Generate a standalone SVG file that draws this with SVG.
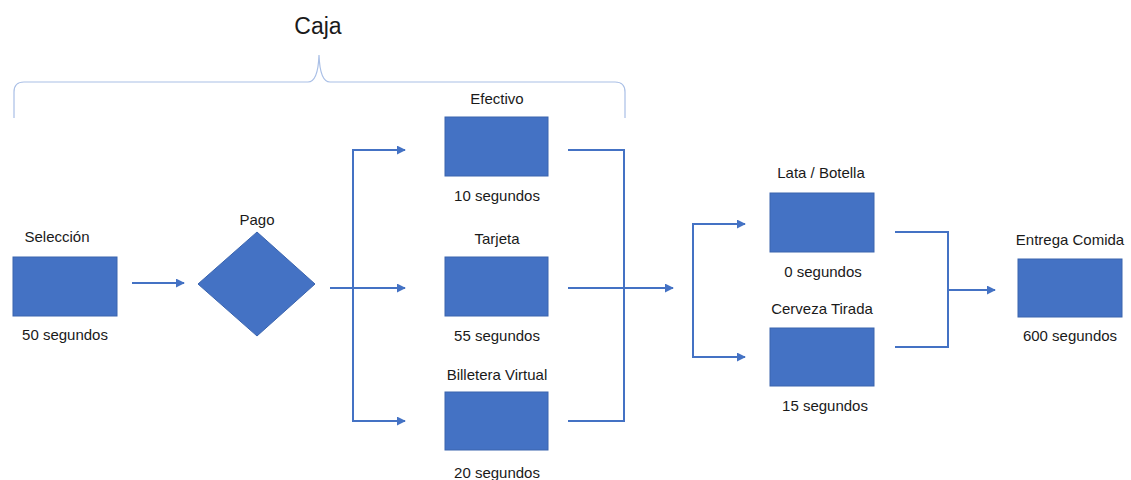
<svg xmlns="http://www.w3.org/2000/svg" width="1131" height="480" viewBox="0 0 1131 480">
<style>
.box{fill:#4472C4;stroke:#3A64AE;stroke-width:1}
.lbl{font-family:"Liberation Sans",Arial,sans-serif;font-size:15px;fill:#1a1a1a;text-anchor:middle}
.cn{fill:none;stroke:#4472C4;stroke-width:2}
.brace{fill:none;stroke:#A9BFE6;stroke-width:1.2}
</style>
<defs>
<marker id="ah" viewBox="0 0 10 10" refX="9" refY="5" markerWidth="4.5" markerHeight="4.5" orient="auto" markerUnits="strokeWidth">
<path d="M0,0 L10,5 L0,10 z" fill="#4472C4"/>
</marker>
</defs>
<rect width="1131" height="480" fill="#ffffff"/>
<g id="caja">
<text x="318" y="34" style="font-family:'Liberation Sans',Arial,sans-serif;font-size:23px;fill:#1a1a1a;text-anchor:middle">Caja</text>
<path class="brace" d="M14,118 L14,92 Q14,82 24,82 L308,82 Q318,82 319,55 Q320,82 330,82 L615,82 Q625,82 625,92 L625,118"/>
</g>
<g id="connectors">
<line class="cn" x1="132" y1="283" x2="184" y2="283" marker-end="url(#ah)"/>
<line class="cn" x1="330" y1="288" x2="405" y2="288" marker-end="url(#ah)"/>
<polyline class="cn" points="405,150 353,150 353,421 405,421" marker-end="url(#ah)"/>
<path class="cn" d="M353,150 L405,150" marker-end="url(#ah)"/>
<polyline class="cn" points="568,150 624,150 624,421 568,421"/>
<line class="cn" x1="568" y1="288" x2="673" y2="288" marker-end="url(#ah)"/>
<polyline class="cn" points="745,224 693,224 693,357 745,357" marker-end="url(#ah)"/>
<path class="cn" d="M693,224 L745,224" marker-end="url(#ah)"/>
<polyline class="cn" points="895,232 948,232 948,347 895,347"/>
<line class="cn" x1="948" y1="290" x2="995" y2="290" marker-end="url(#ah)"/>
</g>
<g id="seleccion">
<text class="lbl" x="57" y="242">Selección</text>
<rect class="box" x="13" y="257" width="104" height="59"/>
<text class="lbl" x="65" y="340">50 segundos</text>
</g>
<g id="pago">
<text class="lbl" x="257" y="225">Pago</text>
<polygon class="box" points="257,232 315,284 257,336 198,284"/>
</g>
<g id="efectivo">
<text class="lbl" x="497" y="104">Efectivo</text>
<rect class="box" x="445" y="117" width="103" height="59"/>
<text class="lbl" x="497" y="201">10 segundos</text>
</g>
<g id="tarjeta">
<text class="lbl" x="497" y="244">Tarjeta</text>
<rect class="box" x="445" y="257" width="103" height="59"/>
<text class="lbl" x="497" y="341">55 segundos</text>
</g>
<g id="billetera">
<text class="lbl" x="497" y="380">Billetera Virtual</text>
<rect class="box" x="445" y="392" width="103" height="58"/>
<text class="lbl" x="497" y="478">20 segundos</text>
</g>
<g id="lata">
<text class="lbl" x="821" y="178">Lata / Botella</text>
<rect class="box" x="770" y="193" width="104" height="59"/>
<text class="lbl" x="823" y="277">0 segundos</text>
</g>
<g id="cerveza">
<text class="lbl" x="822" y="314">Cerveza Tirada</text>
<rect class="box" x="770" y="328" width="104" height="58"/>
<text class="lbl" x="825" y="411">15 segundos</text>
</g>
<g id="entrega">
<text class="lbl" x="1070" y="245">Entrega Comida</text>
<rect class="box" x="1018" y="259" width="104" height="58"/>
<text class="lbl" x="1070" y="341">600 segundos</text>
</g>
</svg>
